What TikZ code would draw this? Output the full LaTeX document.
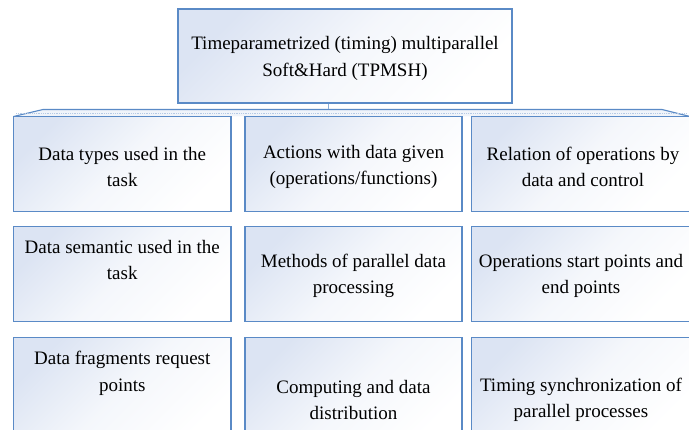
\documentclass[tikz,border=0pt]{standalone}
\usepackage{fontspec}
\setmainfont{Liberation Serif}
\definecolor{edgeblue}{RGB}{90,138,198}
\definecolor{cellblue}{RGB}{220,228,243}
\definecolor{bandfill}{RGB}{240,244,250}
\tikzset{
  cell/.style={draw=edgeblue, line width=1.1pt, top color=cellblue, bottom color=white, middle color=cellblue!30!white, shading angle=45, inner sep=0pt},
  txt/.style={align=center, inner sep=0pt, font=\fontsize{19}{26.5}\selectfont, text=black},
}
\begin{document}
\begin{tikzpicture}[x=1pt,y=-1pt]
\useasboundingbox (0,0) rectangle (689,430);
% band behind the cells
\path[fill=bandfill] (13.5,116.5) -- (43,109.5) -- (662,109.5) -- (690,116.5) -- cycle;
\draw[edgeblue, line width=1.1pt] (13.5,116.5) -- (43,109.5) -- (662,109.5) -- (690,116.5);
\draw[edgeblue!45, densely dotted, line width=0.8pt] (16,113.5) -- (686,113.5);
\coordinate (bandtop) at (328,109.5);
% top box
\node[cell, minimum width=334pt, minimum height=94pt] (top) at (345,56) {};
\node[txt] (ttop) at (345,58.5) {Timeparametrized (timing) multiparallel\\Soft\&Hard (TPMSH)};
\draw[edgeblue!70, line width=0.6pt] (top.south -| bandtop) -- (bandtop);
% row 1
\node[cell, minimum width=217.5pt, minimum height=95pt] (b11) at (122.25,163.75) {};
\node[cell, minimum width=217pt, minimum height=95pt] (b12) at (353.5,163.75) {};
\node[cell, minimum width=218pt, minimum height=95pt] (b13) at (580.5,163.75) {};
\node[txt] (t11) at (122.25,167) {Data types used in the\\task};
\node[txt] (t12) at (353.5,167) {Actions with data given\\(operations/functions)};
\node[txt] (t13) at (583,167) {Relation of operations by\\data and control};
% row 2
\node[cell, minimum width=217.5pt, minimum height=95pt] (b21) at (122.25,274) {};
\node[cell, minimum width=217pt, minimum height=95pt] (b22) at (353.5,274) {};
\node[cell, minimum width=218pt, minimum height=95pt] (b23) at (580.5,274) {};
\node[txt] (t21) at (122.25,260) {Data semantic used in the\\task};
\node[txt] (t22) at (353.5,276) {Methods of parallel data\\processing};
\node[txt] (t23) at (581,276) {Operations start points and\\end points};
% row 3
\node[cell, minimum width=217.5pt, minimum height=105pt] (b31) at (122.25,390) {};
\node[cell, minimum width=217pt, minimum height=105pt] (b32) at (353.5,390) {};
\node[cell, minimum width=218pt, minimum height=105pt] (b33) at (580.5,390) {};
\node[txt] (t31) at (122.25,373.5) {Data fragments request\\points};
\node[txt] (t32) at (353.5,400) {Computing and data\\distribution};
\node[txt] (t33) at (581,400) {Timing synchronization of\\parallel processes};
\end{tikzpicture}
\end{document}
